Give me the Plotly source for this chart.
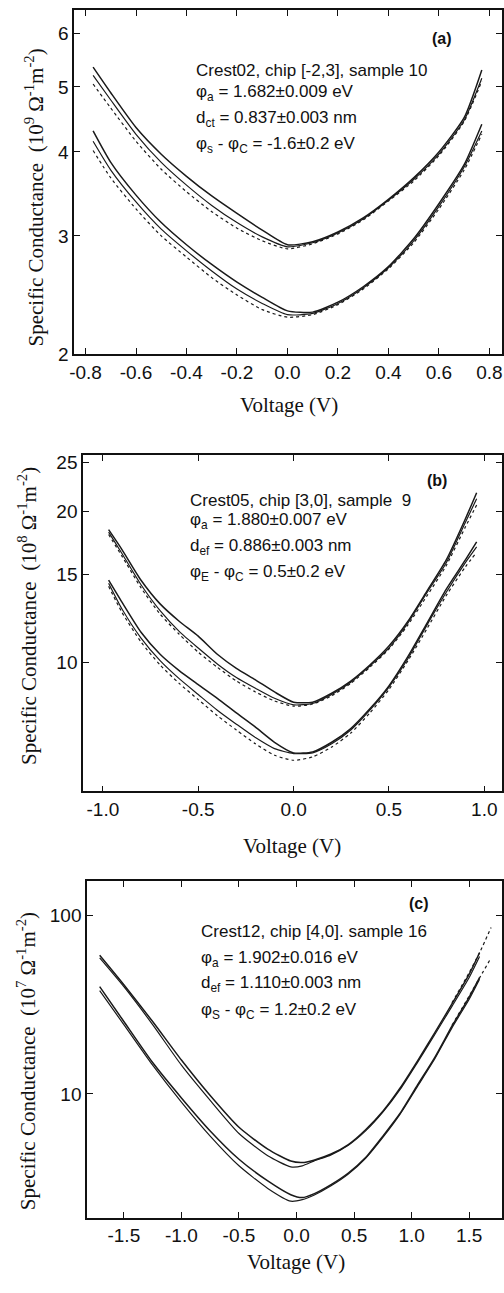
import numpy as np
import plotly.graph_objects as go

W, H = 504, 1293

# ---------------- Panel (a) data ----------------
a_v = [-0.77, -0.7, -0.6, -0.5, -0.4, -0.3, -0.2, -0.1, 0.0, 0.1, 0.2, 0.3, 0.4, 0.5, 0.6, 0.7, 0.77]
a_up_rev = [5.35, 4.9, 4.35, 3.97, 3.68, 3.44, 3.24, 3.06, 2.91, 2.94, 3.04, 3.19, 3.4, 3.66, 4.0, 4.5, 5.3]
a_up_fwd = [5.2, 4.78, 4.25, 3.86, 3.57, 3.33, 3.14, 2.99, 2.89, 2.93, 3.03, 3.18, 3.39, 3.64, 3.97, 4.46, 5.15]
a_up_fit = [5.05, 4.65, 4.15, 3.77, 3.49, 3.26, 3.08, 2.95, 2.87, 2.92, 3.02, 3.17, 3.38, 3.62, 3.95, 4.44, 5.1]
a_lo_rev = [4.3, 3.86, 3.45, 3.14, 2.91, 2.72, 2.56, 2.43, 2.32, 2.31, 2.39, 2.52, 2.7, 2.97, 3.35, 3.83, 4.4]
a_lo_fwd = [4.15, 3.76, 3.37, 3.07, 2.85, 2.66, 2.5, 2.38, 2.29, 2.3, 2.38, 2.51, 2.69, 2.95, 3.32, 3.8, 4.3]
a_lo_fit = [4.02, 3.66, 3.29, 3.0, 2.79, 2.6, 2.45, 2.33, 2.27, 2.29, 2.37, 2.5, 2.68, 2.93, 3.29, 3.76, 4.25]
a_xticks = [-0.8, -0.6, -0.4, -0.2, 0.0, 0.2, 0.4, 0.6, 0.8]
a_xtext = ["-0.8", "-0.6", "-0.4", "-0.2", "0.0", "0.2", "0.4", "0.6", "0.8"]
a_yticks = [2, 3, 4, 5, 6]
a_ytext = ["2", "3", "4", "5", "6"]
a_info = ["Crest02, chip [-2,3], sample 10",
          "φ<sub>a</sub> = 1.682±0.009 eV",
          "d<sub>ct</sub> = 0.837±0.003 nm",
          "φ<sub>s</sub> - φ<sub>C</sub> = -1.6±0.2 eV"]

# ---------------- Panel (b) data ----------------
b_v = [-0.97, -0.9, -0.8, -0.7, -0.6, -0.5, -0.4, -0.3, -0.2, -0.1, 0.0,
       0.1, 0.2, 0.3, 0.4, 0.5, 0.6, 0.7, 0.8, 0.9, 0.96]
b_up_rev = [18.4, 16.8, 14.6, 13.1, 12.1, 11.3, 10.4, 9.75, 9.25, 8.75, 8.35,
            8.35, 8.7, 9.2, 9.9, 10.8, 12.1, 13.9, 16.0, 19.3, 21.8]
b_up_fwd = [18.2, 16.5, 14.3, 12.7, 11.55, 10.7, 9.95, 9.35, 8.9, 8.5, 8.25,
            8.3, 8.65, 9.15, 9.85, 10.7, 12.0, 13.8, 15.8, 19.0, 21.2]
b_up_fit = [18.0, 16.3, 14.1, 12.5, 11.4, 10.5, 9.8, 9.2, 8.75, 8.4, 8.2,
            8.28, 8.6, 9.1, 9.8, 10.65, 11.9, 13.6, 15.6, 18.6, 20.6]
b_lo_rev = [14.6, 13.2, 11.5, 10.4, 9.65, 9.05, 8.5, 7.95, 7.45, 6.95, 6.62,
            6.65, 6.95, 7.4, 8.1, 9.0, 10.3, 12.0, 14.0, 16.0, 17.4]
b_lo_fwd = [14.4, 12.8, 11.2, 10.1, 9.3, 8.65, 8.05, 7.55, 7.1, 6.75, 6.6,
            6.62, 6.9, 7.35, 8.05, 8.95, 10.2, 11.9, 13.8, 15.8, 17.0]
b_lo_fit = [14.2, 12.6, 11.0, 9.9, 9.1, 8.45, 7.85, 7.35, 6.9, 6.55, 6.4,
            6.5, 6.8, 7.25, 7.95, 8.85, 10.1, 11.7, 13.6, 15.5, 16.6]
b_xticks = [-1.0, -0.5, 0.0, 0.5, 1.0]
b_xtext = ["-1.0", "-0.5", "0.0", "0.5", "1.0"]
b_yticks = [10, 15, 20, 25]
b_ytext = ["10", "15", "20", "25"]
b_info = ["Crest05, chip [3,0], sample  9",
          "φ<sub>a</sub> = 1.880±0.007 eV",
          "d<sub>ef</sub> = 0.886±0.003 nm",
          "φ<sub>E</sub> - φ<sub>C</sub> = 0.5±0.2 eV"]

# ---------------- Panel (c) data ----------------
c_v = [-1.71, -1.5, -1.25, -1.0, -0.75, -0.5, -0.25, -0.05, 0.05,
       0.15, 0.3, 0.45, 0.6, 0.75, 0.9, 1.05, 1.2, 1.35, 1.5, 1.59]
c_up_rev = [60, 41, 25.5, 15.5, 9.8, 6.5, 4.9, 4.2, 4.12,
            4.25, 4.6, 5.2, 6.3, 8.0, 10.8, 15.3, 22, 32, 47, 62]
c_up_fwd = [58, 40, 24.5, 14.5, 9.2, 6.0, 4.5, 3.9, 3.95,
            4.2, 4.55, 5.15, 6.2, 7.9, 10.6, 15.0, 21.5, 31, 45, 59]
c_lo_rev = [40, 25.5, 15, 9.5, 6.2, 4.3, 3.25, 2.72, 2.62,
            2.75, 3.1, 3.6, 4.4, 5.8, 7.8, 11.2, 16, 24, 35, 45]
c_lo_fwd = [38, 24.5, 14.5, 9.0, 5.8, 3.95, 2.95, 2.5, 2.55,
            2.7, 3.05, 3.55, 4.35, 5.7, 7.7, 11.0, 15.7, 23.5, 34, 44]
c_v_ext = [1.35, 1.5, 1.6, 1.69]
c_up_ext = [32.5, 48, 64, 86]
c_lo_ext = [24.3, 35.5, 46, 58]
c_xticks = [-1.5, -1.0, -0.5, 0.0, 0.5, 1.0, 1.5]
c_xtext = ["-1.5", "-1.0", "-0.5", "0.0", "0.5", "1.0", "1.5"]
c_yticks = [10, 100]
c_ytext = ["10", "100"]
c_info = ["Crest12, chip [4,0]. sample 16",
          "φ<sub>a</sub> = 1.902±0.016 eV",
          "d<sub>ef</sub> = 1.110±0.003 nm",
          "φ<sub>S</sub> - φ<sub>C</sub> = 1.2±0.2 eV"]

# ---------------- helpers ----------------
def xp(px):
    return px / W


def yp(py):
    return 1 - py / H


LINE = "#1a1a1a"
SANS = "Liberation Sans, Arial, sans-serif"
SERIF = "Liberation Serif, Times New Roman, serif"

fig = go.Figure()


def add(xs, ys, ax, dash="solid", width=1.3):
    fig.add_trace(go.Scatter(
        x=xs, y=ys, mode="lines", xaxis="x" + ax, yaxis="y" + ax,
        line=dict(color=LINE, width=width, dash=dash, shape="spline", smoothing=0.6),
        showlegend=False, hoverinfo="skip"))


add(a_v, a_up_fit, "", "dot", 1.2)
add(a_v, a_up_fwd, "", "solid", 1.2)
add(a_v, a_up_rev, "", "solid", 1.5)
add(a_v, a_lo_fit, "", "dot", 1.2)
add(a_v, a_lo_fwd, "", "solid", 1.2)
add(a_v, a_lo_rev, "", "solid", 1.5)

add(b_v, b_up_fit, "2", "dot", 1.2)
add(b_v, b_up_fwd, "2", "solid", 1.2)
add(b_v, b_up_rev, "2", "solid", 1.5)
add(b_v, b_lo_fit, "2", "dot", 1.2)
add(b_v, b_lo_fwd, "2", "solid", 1.2)
add(b_v, b_lo_rev, "2", "solid", 1.5)

add(c_v, c_up_fwd, "3", "solid", 1.2)
add(c_v, c_up_rev, "3", "solid", 1.5)
add(c_v_ext, c_up_ext, "3", "dot", 1.2)
add(c_v, c_lo_fwd, "3", "solid", 1.2)
add(c_v, c_lo_rev, "3", "solid", 1.5)
add(c_v_ext, c_lo_ext, "3", "dot", 1.2)

tickfont = dict(family=SANS, size=19, color="#111")


def xaxis(dom, rng, tv, tt, anchor):
    return dict(domain=[xp(dom[0]), xp(dom[1])], range=list(rng), anchor=anchor,
                tickmode="array", tickvals=tv, ticktext=tt, ticks="inside",
                ticklen=6, tickwidth=1.3, tickcolor="#111",
                showline=True, linecolor="#111", linewidth=1.5, mirror="allticks",
                showgrid=False, zeroline=False, tickfont=tickfont)


def yaxis(dom, rng, tv, tt, anchor):
    return dict(domain=[yp(dom[1]), yp(dom[0])], range=[np.log10(rng[0]), np.log10(rng[1])],
                type="log", anchor=anchor,
                tickmode="array", tickvals=tv, ticktext=tt, ticks="inside",
                ticklen=6, tickwidth=1.3, tickcolor="#111",
                showline=True, linecolor="#111", linewidth=1.5, mirror="allticks",
                showgrid=False, zeroline=False, tickfont=tickfont)


def xminor(over, anchor, rng, step):
    return dict(overlaying=over, anchor=anchor, range=list(rng), tickmode="linear", tick0=0,
                dtick=step, ticks="inside", ticklen=3, tickwidth=1, tickcolor="#111",
                showticklabels=False, showline=False, mirror="allticks",
                showgrid=False, zeroline=False, fixedrange=True)


def yminor(over, anchor, rng, vals):
    return dict(overlaying=over, anchor=anchor, type="log",
                range=[np.log10(rng[0]), np.log10(rng[1])], tickmode="array", tickvals=vals,
                ticks="inside", ticklen=3, tickwidth=1, tickcolor="#111",
                showticklabels=False, showline=False, mirror="allticks",
                showgrid=False, zeroline=False, fixedrange=True)


a_minor = [round(v, 1) for v in np.arange(2.1, 6.5, 0.1) if abs(v - round(v)) > 1e-6]
b_minor = [round(v, 1) for v in np.arange(5.5, 26.0, 0.5) if round(v, 1) not in (10, 15, 20, 25)]
c_minor = [3, 4, 5, 6, 7, 8, 9, 20, 30, 40, 50, 60, 70, 80, 90]

a_xr, a_yr = (-0.845, 0.85), (2.0, 6.51)
b_xr, b_yr = (-1.104, 1.093), (5.55, 25.9)
c_xr, c_yr = (-1.82, 1.785), (2.02, 156)

fig.update_layout(
    width=W, height=H, margin=dict(l=0, r=0, t=0, b=0),
    paper_bgcolor="white", plot_bgcolor="white",
    xaxis=xaxis((70, 503), a_xr, a_xticks, a_xtext, "y"),
    yaxis=yaxis((7, 355), a_yr, a_yticks, a_ytext, "x"),
    xaxis2=xaxis((79, 503), b_xr, b_xticks, b_xtext, "y2"),
    yaxis2=yaxis((457, 797), b_yr, b_yticks, b_ytext, "x2"),
    xaxis3=xaxis((83, 503), c_xr, c_xticks, c_xtext, "y3"),
    yaxis3=yaxis((888, 1228), c_yr, c_yticks, c_ytext, "x3"),
    xaxis4=xminor("x", "y", a_xr, 0.1),
    yaxis4=yminor("y", "x", a_yr, a_minor),
    xaxis5=xminor("x2", "y2", b_xr, 0.25),
    yaxis5=yminor("y2", "x2", b_yr, b_minor),
    xaxis6=xminor("x3", "y3", c_xr, 0.25),
    yaxis6=yminor("y3", "x3", c_yr, c_minor),
)

ann = []


def txt(px, py, s, size=17, family=SANS, xanchor="left", yanchor="middle", angle=0, bold=False):
    ann.append(dict(x=xp(px), y=yp(py), xref="paper", yref="paper", text=("<b>%s</b>" % s) if bold else s,
                    showarrow=False, xanchor=xanchor, yanchor=yanchor, textangle=angle,
                    font=dict(family=family, size=size, color="#111")))


def info(lines, left, centers):
    for s, c in zip(lines, centers):
        txt(left, c - 11, s, yanchor="top")


info(a_info, 191, [68, 89, 115, 141])
info(b_info, 185, [502, 522, 548, 574])
info(c_info, 196, [938, 964, 990, 1017])

txt(442, 36, "(a)", size=16, xanchor="center", bold=True)
txt(437, 483, "(b)", size=16, xanchor="center", bold=True)
txt(419, 910, "(c)", size=16, xanchor="center", bold=True)

title_font = 21
txt(287, 406, "Voltage (V)", size=title_font, family=SERIF, xanchor="center")
txt(290, 852, "Voltage (V)", size=title_font, family=SERIF, xanchor="center")
txt(295, 1273, "Voltage (V)", size=title_font, family=SERIF, xanchor="center")

txt(30, 197, "Specific Conductance  (10<sup>9</sup> Ω<sup>-1</sup>m<sup>-2</sup>)", size=title_font,
    family=SERIF, xanchor="center", angle=-90)
txt(23, 620, "Specific Conductance  (10<sup>8</sup> Ω<sup>-1</sup>m<sup>-2</sup>)", size=title_font,
    family=SERIF, xanchor="center", angle=-90)
txt(22, 1070, "Specific Conductance  (10<sup>7</sup> Ω<sup>-1</sup>m<sup>-2</sup>)", size=title_font,
    family=SERIF, xanchor="center", angle=-90)

fig.update_layout(annotations=ann)

fig.write_html("out.html")
